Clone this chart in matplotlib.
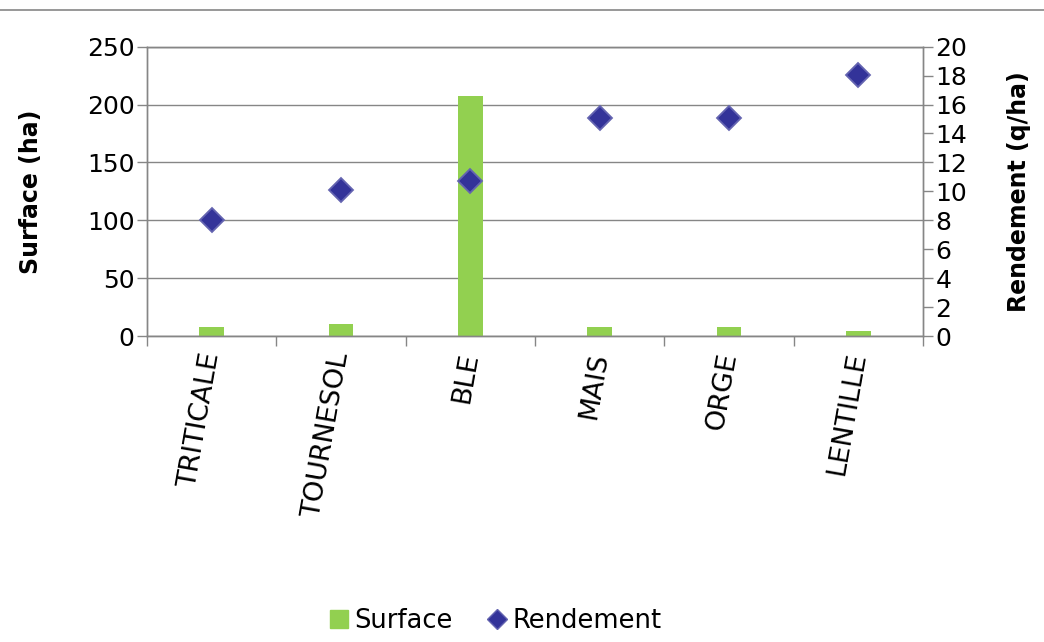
import matplotlib.pyplot as plt
from matplotlib.lines import Line2D
import numpy as np

cultures   = ['TRITICALE', 'TOURNESOL', 'BLE', 'MAIS', 'ORGE', 'LENTILLE']
surface    = [8, 10, 207, 8, 8, 4]
rendement  = [8, 10.1, 10.7, 15.05, 15.05, 18.05]

GRID  = '#868686'
GREEN = '#92D050'
BLUE  = '#333399'

plt.rcParams['font.family'] = 'DejaVu Sans'

fig = plt.figure(figsize=(10.44, 6.42), dpi=100)
fig.patch.set_facecolor('white')

ax1 = fig.add_axes([0.1408, 0.4766, 0.7432, 0.4507])
ax2 = ax1.twinx()

x = np.arange(len(cultures))
ax1.bar(x, surface, width=0.19, color=GREEN, zorder=2, label='Surface')
ax2.plot(x, rendement, linestyle='none', marker='D', markersize=12.5,
         markerfacecolor=BLUE, markeredgecolor='#6464b0', markeredgewidth=1.3,
         zorder=3, label='Rendement')

ax1.set_xlim(-0.5, len(cultures) - 0.5)
ax1.set_ylim(0, 250)
ax1.set_yticks(np.arange(0, 251, 50))
ax2.set_ylim(0, 20)
ax2.set_yticks(np.arange(0, 21, 2))

ax1.set_xticks(np.arange(-0.5, len(cultures), 1.0))
ax1.set_xticklabels([])
ax1.set_xticks(x, minor=True)
ax1.set_xticklabels(cultures, minor=True, rotation=80, ha='right', va='center',
                    rotation_mode='anchor', fontsize=19.5)
ax1.tick_params(axis='x', which='minor', length=0, pad=12)
ax1.tick_params(axis='x', which='major', length=7, color=GRID, width=1)
ax1.tick_params(axis='y', length=7, color=GRID, width=1, labelsize=18, pad=2)
ax2.tick_params(axis='y', length=7, color=GRID, width=1, labelsize=18, pad=2)

ax1.grid(axis='y', color=GRID, linewidth=1, zorder=0)
ax1.set_axisbelow(True)
for ax in (ax1, ax2):
    for s in ax.spines.values():
        s.set_color(GRID)
        s.set_linewidth(1)

ax1.set_ylabel('Surface (ha)', fontsize=17, fontweight='bold')
ax2.set_ylabel('Rendement (q/ha)', fontsize=17, fontweight='bold')
ax1.yaxis.set_label_coords(-0.134, 0.5)
ax2.yaxis.set_label_coords(1.108, 0.5)

handles = [
    Line2D([], [], linestyle='none', marker='s', markersize=13,
           markerfacecolor=GREEN, markeredgecolor=GREEN),
    Line2D([], [], linestyle='none', marker='D', markersize=10,
           markerfacecolor=BLUE, markeredgecolor='#6464b0'),
]
fig.legend(handles, ['Surface', 'Rendement'], loc='center',
           bbox_to_anchor=(495 / 1044, 1 - 621 / 642), ncol=2, frameon=False,
           fontsize=18.5, handlelength=0.8, handletextpad=0.2, columnspacing=1.3)

fig.add_artist(Line2D([0, 1], [1 - 10 / 642, 1 - 10 / 642], color=GRID,
                      linewidth=1.2, transform=fig.transFigure))

plt.savefig('out.png', dpi=100, facecolor='white')
plt.close()
